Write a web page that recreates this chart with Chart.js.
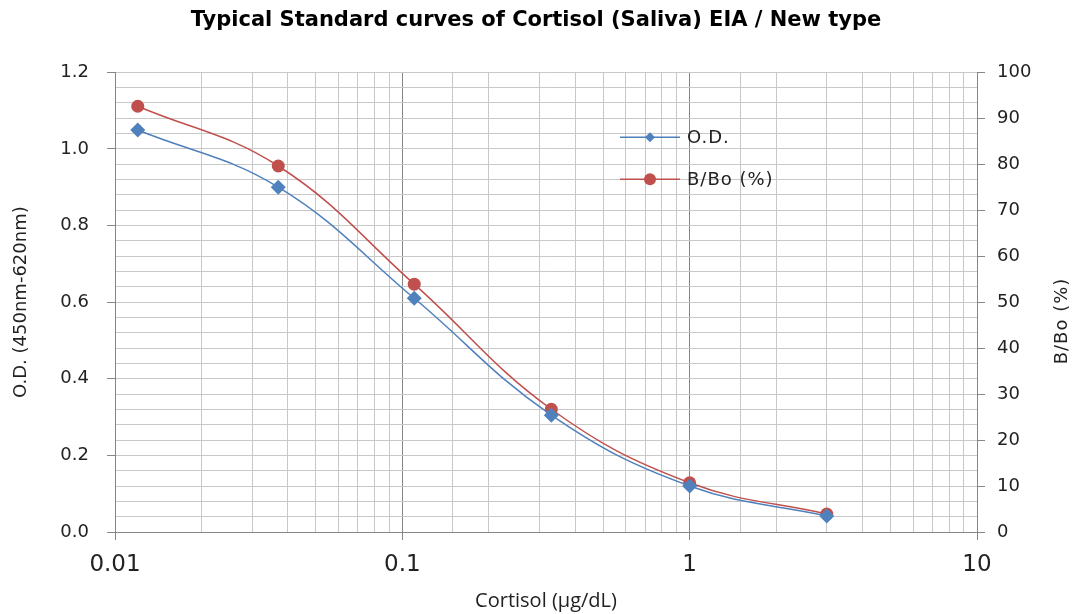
<!DOCTYPE html>
<html>
<head>
<meta charset="utf-8">
<script src="https://cdn.jsdelivr.net/npm/chart.js@4.4.1/dist/chart.umd.min.js"></script>
<style>
  html, body { margin: 0; padding: 0; background: #fff; }
  #wrap { width: 1072px; height: 614px; }
</style>
</head>
<body>
<div id="wrap"><canvas id="chart"></canvas></div>
<script>
// Cortisol standards (µg/dL) and their readings
const concentrations = [0.012, 0.037, 0.11, 0.33, 1.0, 3.0]
const odValues = [1.049, 0.900, 0.610, 0.305, 0.120, 0.042]
const bBoValues = [92.6, 79.6, 53.9, 26.7, 10.7, 3.9]

const seriesLabels = ["O.D.", "B/Bo (%)"]
const xDecades = [0.01, 0.1, 1, 10]

const BLUE = "#4F81BD"
const RED = "#C0504D"
const GRID = "#c8c8c8"
const GRID_DARK = "#868686"
const TEXT = "#222"
const FONT = "DejaVu Sans, Verdana, sans-serif"

const isDecade = (v) => xDecades.some(d => Math.abs(v - d) < d * 1e-6)
const isMajorOD = (v) => Math.round(v * 100) % 20 === 0

// legend drawn inside the plot area, like the original
const innerLegend = {
  id: "innerLegend",
  afterDatasetsDraw(chart) {
    const { ctx, chartArea } = chart
    const x0 = chartArea.left + 505
    const rows = [chartArea.top + 65, chartArea.top + 107]
    ctx.save()
    chart.data.datasets.forEach((ds, i) => {
      const y = rows[i]
      ctx.strokeStyle = ds.borderColor
      ctx.lineWidth = 1.5
      ctx.beginPath()
      ctx.moveTo(x0, y)
      ctx.lineTo(x0 + 60, y)
      ctx.stroke()
      ctx.fillStyle = ds.backgroundColor
      ctx.beginPath()
      if (ds.pointStyle === "rectRot") {
        const r = 5
        ctx.moveTo(x0 + 30, y - r)
        ctx.lineTo(x0 + 30 + r, y)
        ctx.lineTo(x0 + 30, y + r)
        ctx.lineTo(x0 + 30 - r, y)
        ctx.closePath()
      } else {
        ctx.arc(x0 + 30, y, 6, 0, Math.PI * 2)
      }
      ctx.fill()
      ctx.fillStyle = TEXT
      ctx.font = "18px " + FONT
      ctx.letterSpacing = "1px"
      ctx.textBaseline = "middle"
      ctx.fillText(ds.label, x0 + 67, y + 1)
    })
    ctx.restore()
  },
  afterDraw(chart) {
    // right axis title reads bottom-to-top in the original
    const { ctx } = chart
    ctx.save()
    ctx.translate(1062, 321)
    ctx.rotate(-Math.PI / 2)
    ctx.fillStyle = TEXT
    ctx.font = "18px " + FONT
    ctx.letterSpacing = "1px"
    ctx.textAlign = "center"
    ctx.textBaseline = "middle"
    ctx.fillText("B/Bo (%)", 0, 0)
    ctx.restore()
  }
}

const ctx = document.getElementById("chart").getContext("2d")
new Chart(ctx, {
  type: "line",
  data: {
    datasets: [
      {
        label: seriesLabels[0],
        data: concentrations.map((c, i) => ({ x: c, y: odValues[i] })),
        yAxisID: "y",
        borderColor: BLUE,
        backgroundColor: BLUE,
        borderWidth: 1.5,
        tension: 0.4,
        pointStyle: "rectRot",
        pointRadius: 7.5,
        pointBorderWidth: 0
      },
      {
        label: seriesLabels[1],
        data: concentrations.map((c, i) => ({ x: c, y: bBoValues[i] })),
        yAxisID: "y1",
        borderColor: RED,
        backgroundColor: RED,
        borderWidth: 1.5,
        tension: 0.4,
        pointStyle: "circle",
        pointRadius: 6.5,
        pointBorderWidth: 0
      }
    ]
  },
  options: {
    responsive: true,
    maintainAspectRatio: false,
    animation: false,
    layout: { padding: 0 },
    plugins: {
      legend: { display: false },
      tooltip: { enabled: false },
      title: {
        display: true,
        text: "Typical Standard curves of Cortisol (Saliva) EIA / New type",
        color: "#000",
        font: { family: FONT, size: 21, weight: "bold" },
        padding: { top: 8, bottom: 39 }
      }
    },
    scales: {
      x: {
        type: "logarithmic",
        min: 0.01,
        max: 10,
        afterFit: (s) => { s.height = 82 },
        border: { color: GRID_DARK },
        grid: {
          color: (c) => (c.tick && isDecade(c.tick.value) ? GRID_DARK : GRID),
          tickColor: (c) => (c.tick && isDecade(c.tick.value) ? GRID_DARK : "transparent"),
          tickLength: 8
        },
        ticks: {
          autoSkip: false,
          maxRotation: 0,
          padding: 11,
          color: TEXT,
          font: { family: FONT, size: 23 },
          callback: (v) => (isDecade(v) ? String(xDecades.find(d => Math.abs(v - d) < d * 1e-6)) : "")
        },
        title: {
          display: true,
          text: "Cortisol (μg/dL)",
          color: TEXT,
          font: { family: "Open Sans, sans-serif", size: 20 },
          padding: { top: 0, bottom: 1 }
        }
      },
      y: {
        position: "left",
        min: 0,
        max: 1.2,
        afterFit: (s) => { s.width = 115 },
        border: { color: GRID_DARK },
        grid: {
          color: GRID,
          tickColor: (c) => (c.tick && isMajorOD(c.tick.value) ? GRID_DARK : "transparent"),
          tickLength: 8
        },
        ticks: {
          stepSize: 0.04,
          maxTicksLimit: 100,
          autoSkip: false,
          padding: 18,
          color: TEXT,
          font: { family: FONT, size: 18 },
          callback: (v) => (isMajorOD(v) ? v.toFixed(1) : "")
        },
        title: {
          display: true,
          text: "O.D. (450nm-620nm)",
          color: TEXT,
          font: { family: FONT, size: 18 },
          padding: { top: 11, bottom: 0 }
        }
      },
      y1: {
        position: "right",
        min: 0,
        max: 100,
        afterFit: (s) => { s.width = 95 },
        border: { color: GRID_DARK },
        grid: {
          drawOnChartArea: false,
          color: GRID_DARK,
          tickLength: 8
        },
        ticks: {
          stepSize: 10,
          padding: 12,
          color: TEXT,
          font: { family: FONT, size: 18 }
        }
      }
    }
  },
  plugins: [innerLegend]
})
</script>
</body>
</html>
